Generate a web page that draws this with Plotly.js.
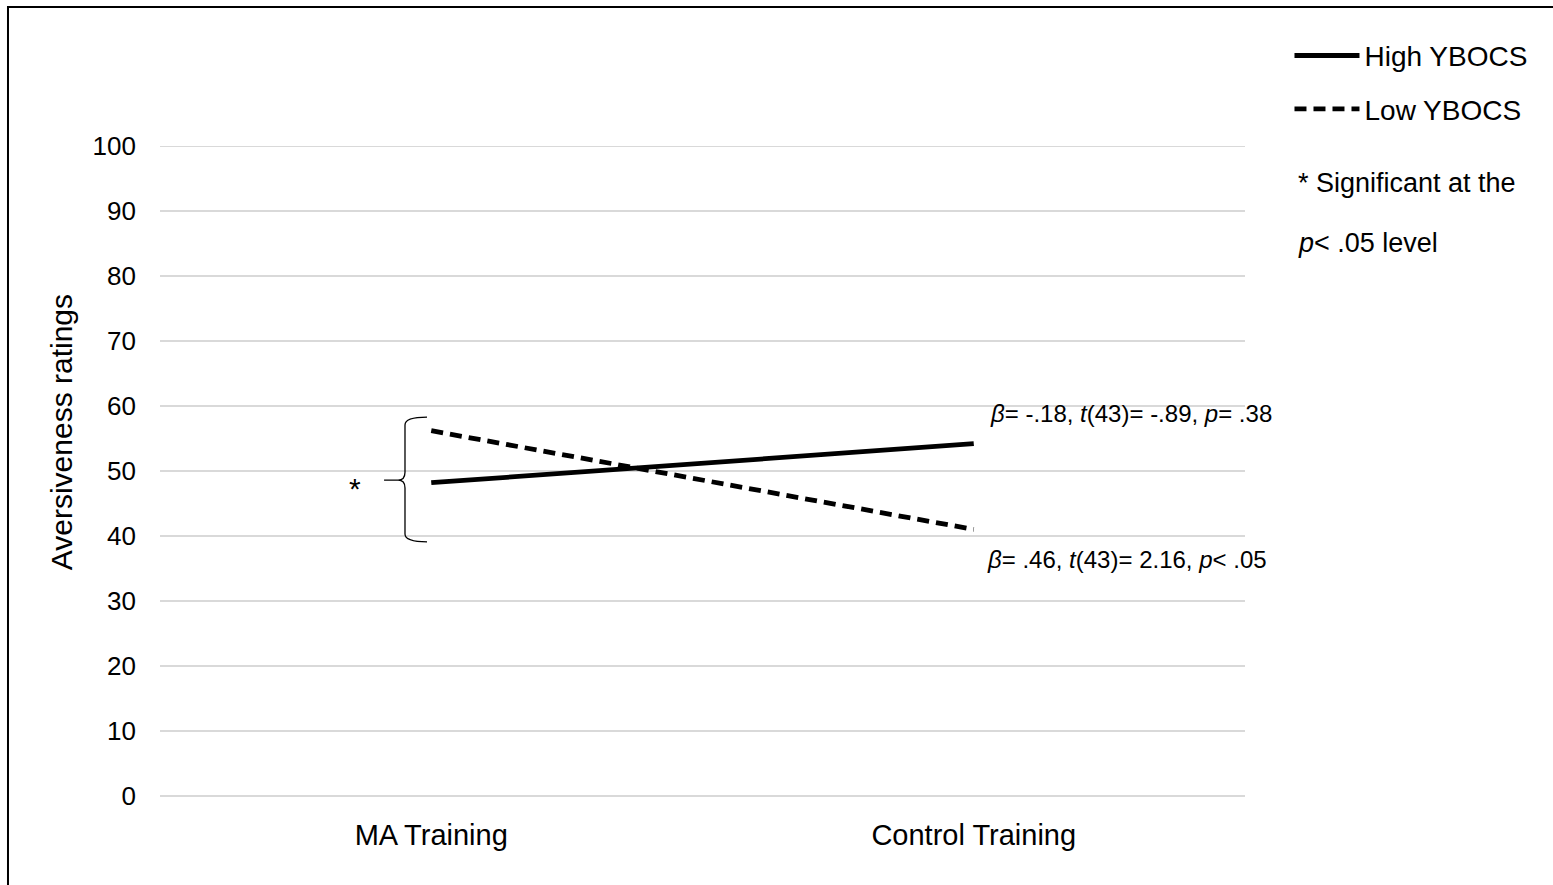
<!DOCTYPE html>
<html>
<head>
<meta charset="utf-8">
<script src="https://cdn.plot.ly/plotly-3.0.1.min.js"></script>
<style>html,body{margin:0;padding:0;background:#fff;}#chart{width:1553px;height:885px;}</style>
</head>
<body>
<div id="chart"></div>
<script>
var categories = ["MA Training", "Control Training"];
var highYbocs = [48.2, 54.2];
var lowYbocs = [56.2, 41.0];
var yTicks = [0, 10, 20, 30, 40, 50, 60, 70, 80, 90, 100];
var seriesNames = ["High YBOCS", "Low YBOCS"];
var statHigh = "<i>β</i>= -.18, <i>t</i>(43)= -.89, <i>p</i>= .38";
var statLow = "<i>β</i>= .46, <i>t</i>(43)= 2.16, <i>p</i>< .05";
var noteLine1 = "* Significant at the";
var noteLine2 = "<i>p</i>< .05 level";

var FONT = "Liberation Sans, Arial, sans-serif";

var traces = [
  {x: categories, y: highYbocs, name: seriesNames[0], type: "scatter", mode: "lines",
   line: {color: "#000", width: 4.8}, legendgroup: "a"},
  {x: categories, y: lowYbocs, name: seriesNames[1], type: "scatter", mode: "lines",
   line: {color: "#000", width: 4.8, dash: "12px,7px"}, legendgroup: "b"}
];

var layout = {
  width: 1553, height: 885,
  margin: {l: 160, r: 308, t: 143, b: 86},
  paper_bgcolor: "#fff", plot_bgcolor: "#fff",
  font: {family: FONT, color: "#000", size: 26},
  showlegend: true,
  legend: {x: 1.041, xanchor: "left", y: 1.171, yanchor: "top",
           font: {size: 28, family: FONT, color: "#000"},
           itemwidth: 65, tracegroupgap: 14, bgcolor: "rgba(0,0,0,0)"},
  xaxis: {type: "category", range: [-0.5, 1.5], showgrid: false, zeroline: false, showline: false,
          ticks: "", tickfont: {size: 29}, ticklabelstandoff: 16, fixedrange: true},
  yaxis: {range: [-0.5, 100.5], tickvals: yTicks, showgrid: true, gridcolor: "#d9d9d9", gridwidth: 1.5,
          zeroline: false, showline: false, ticks: "", tickfont: {size: 26}, ticklabelstandoff: 23,
          fixedrange: true},
  annotations: [
    {text: "Aversiveness ratings", xref: "paper", yref: "paper", x: -0.0906, y: 0.5587,
     textangle: -90, showarrow: false, font: {size: 30}, xanchor: "center", yanchor: "middle"},
    {text: statHigh, xref: "paper", yref: "y", x: 0.7635, y: 58.8, xanchor: "left", yanchor: "middle",
     showarrow: false, font: {size: 24}},
    {text: statLow, xref: "paper", yref: "y", x: 0.7605, y: 36.4, xanchor: "left", yanchor: "middle",
     showarrow: false, font: {size: 24}},
    {text: "*", xref: "paper", yref: "y", x: 0.1797, y: 47.3, xanchor: "center", yanchor: "middle",
     showarrow: false, font: {size: 30}},
    {text: noteLine1, xref: "paper", yref: "paper", x: 1.047, y: 0.9397, xanchor: "left", yanchor: "middle",
     showarrow: false, font: {size: 27}},
    {text: noteLine2, xref: "paper", yref: "paper", x: 1.047, y: 0.8483, xanchor: "left", yanchor: "middle",
     showarrow: false, font: {size: 27}}
  ],
  shapes: [
    {type: "rect", xref: "paper", yref: "paper", x0: -0.1401, x1: 1.4, y0: -0.5, y1: 1.2073,
     line: {color: "#000", width: 2}, fillcolor: "rgba(0,0,0,0)", layer: "above"},
    {type: "path", xref: "paper", yref: "y",
     path: "M 0.2461,58.3 Q 0.2258,58.3 0.2258,57.1 L 0.2258,49.8 Q 0.2258,48.6 0.2194,48.6 L 0.2065,48.6 " +
           "M 0.2194,48.6 Q 0.2258,48.6 0.2258,47.4 L 0.2258,40.3 Q 0.2258,39.1 0.2461,39.1",
     line: {color: "#000", width: 1.3}}
  ]
};

Plotly.newPlot("chart", traces, layout, {displayModeBar: false, staticPlot: true});
</script>
</body>
</html>
